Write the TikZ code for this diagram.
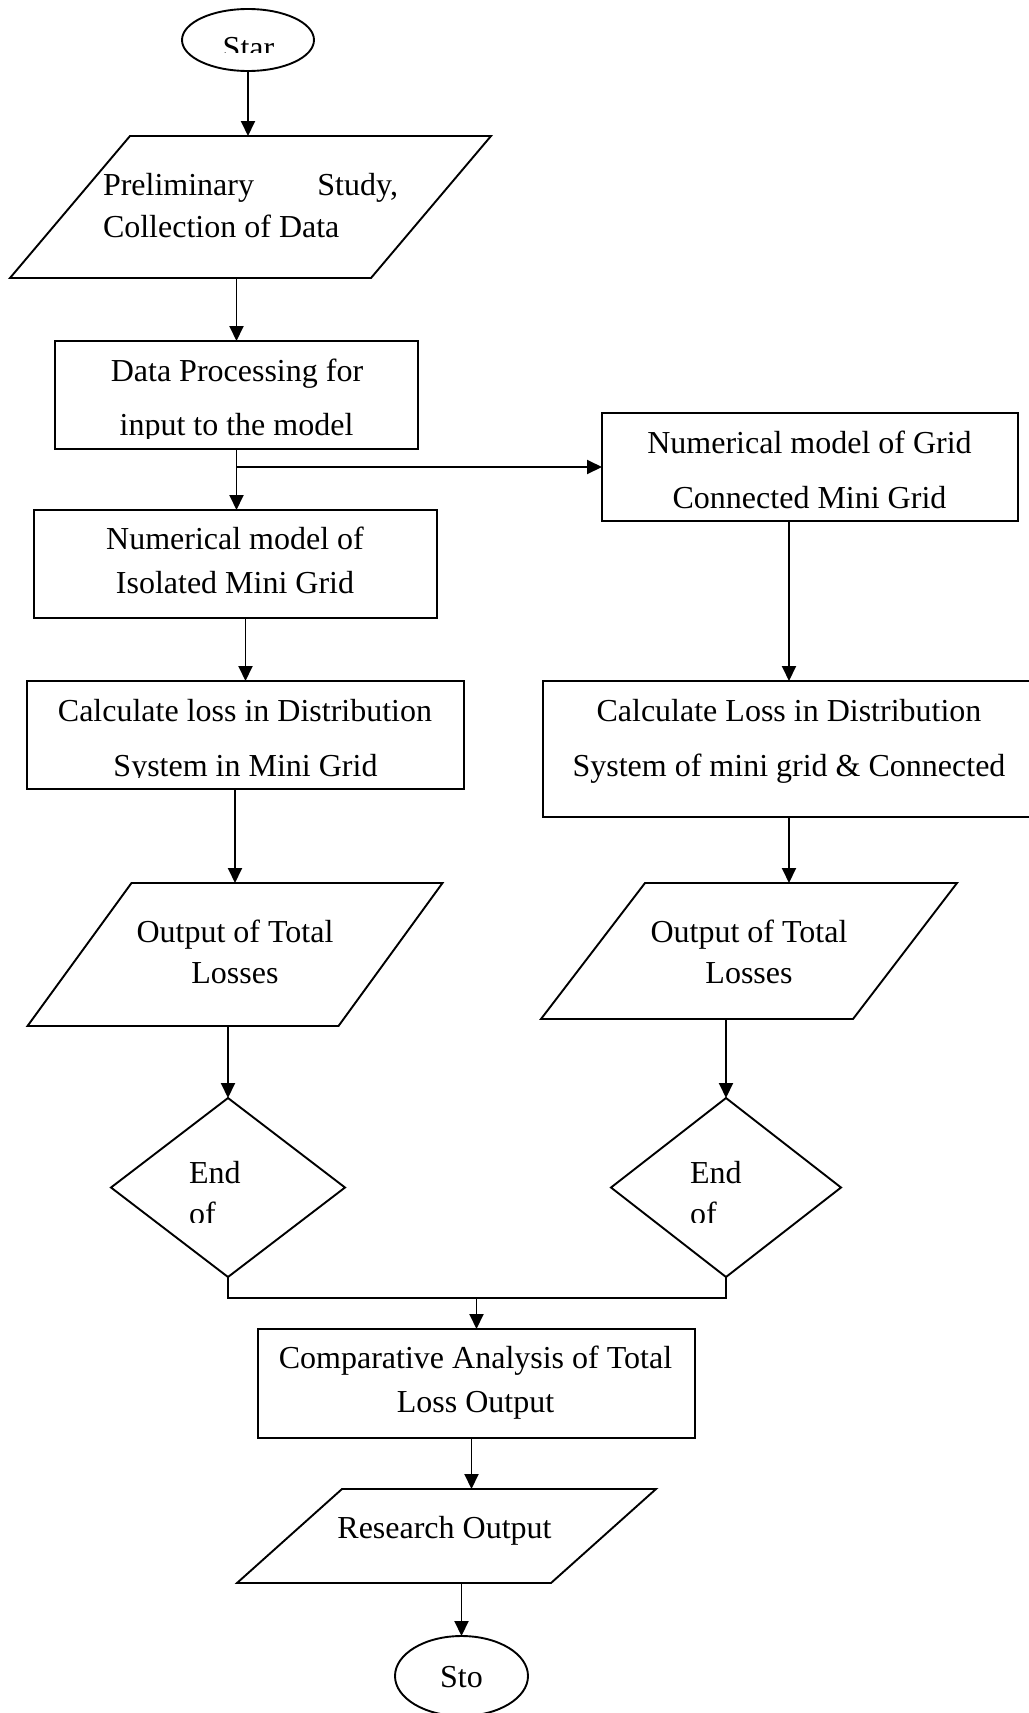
\documentclass[tikz,border=0pt]{standalone}
\usepackage{fontspec}
\setmainfont{Liberation Serif}
\usetikzlibrary{arrows.meta,shapes.geometric,calc}
\tikzset{
  ln/.style={line width=0.95pt, black, line join=miter},
  arr/.style={ln, -{Triangle[length=7.5pt,width=7pt]}},
  shp/.style={draw, line width=0.95pt, inner sep=0pt, outer sep=0pt},
  body/.style={rectangle, inner sep=0pt, outer sep=0pt},
  txt/.style={inner sep=0pt, outer sep=0pt, anchor=base, font=\fontsize{16}{19}\selectfont},
  txtl/.style={txt, anchor=base west}
}
\newcommand\drawpara[2]{%
  \draw[ln] ([xshift=-#2]#1.south west) -- ([xshift=-#2]#1.south east)
    -- ([xshift=#2]#1.north east) -- ([xshift=#2]#1.north west) -- cycle;}
\begin{document}
\begin{tikzpicture}[x=0.5pt,y=-0.5pt]
\fill[white] (0,0) rectangle (1028,1713);
\useasboundingbox (0,0) rectangle (1028,1713);

% ---------- shapes ----------
\node[shp, ellipse, minimum width=66pt, minimum height=31pt] (start) at (248,40) {};
\node[body, minimum width=180.5pt, minimum height=71pt] (p1) at (250.5,207) {};
\drawpara{p1}{30pt}
\node[shp, rectangle, minimum width=181.5pt, minimum height=54pt] (dp) at (236.5,395) {};
\node[shp, rectangle, minimum width=201.5pt, minimum height=54pt] (ni) at (235.5,564) {};
\node[shp, rectangle, minimum width=208pt, minimum height=54pt] (ng) at (810,467) {};
\node[shp, rectangle, minimum width=218.5pt, minimum height=54pt] (cl) at (245.5,735) {};
\node[shp, rectangle, minimum width=246pt, minimum height=68pt] (cr) at (789,749) {};
\node[body, minimum width=155.5pt, minimum height=71.5pt] (ol) at (235,954.5) {};
\drawpara{ol}{26pt}
\node[body, minimum width=156pt, minimum height=68pt] (or) at (749,951) {};
\drawpara{or}{26pt}
\node[shp, diamond, minimum width=117pt, minimum height=89.5pt] (dl) at (228,1187.5) {};
\node[shp, diamond, minimum width=115pt, minimum height=89.5pt] (dr) at (726,1187.5) {};
\node[shp, rectangle, minimum width=218.5pt, minimum height=54.5pt] (ca) at (476.5,1383.5) {};
\node[body, minimum width=157pt, minimum height=47pt] (ro) at (446.5,1536) {};
\drawpara{ro}{26.25pt}
\node[shp, ellipse, minimum width=66.5pt, minimum height=40pt] (stop) at (461.5,1676) {};

% ---------- connectors ----------
\draw[arr] (start.south) -- (start.south |- p1.north);
\draw[arr] (p1.south -| dp.north) -- (dp.north);
\draw[arr] (dp.south) -- (dp.south |- ni.north);
\coordinate (br) at (dp.south |- ng.west);
\draw[arr] (br) -- (ng.west);
\draw[arr] (ni.south -| cl.north) -- (cl.north);
\draw[arr] (cl.south -| ol.north) -- (ol.north);
\draw[arr] (ol.south -| dl.north) -- (dl.north);
\draw[arr] (ng.south -| cr.north) -- (cr.north);
\draw[arr] (cr.south) -- (cr.south |- or.north);
\draw[arr] (or.south -| dr.north) -- (dr.north);
\coordinate (jn) at ($(ca.north)+(0,-31)$);
\draw[ln] (dl.south) |- (jn) -| (dr.south);
\draw[arr] (jn) -- (ca.north);
\coordinate (caout) at ($(ca.south)+(-5,0)$);
\draw[arr] (caout) -- (caout |- ro.north);
\draw[arr] (ro.south -| stop.north) -- (stop.north);

% ---------- texts ----------
\begin{scope}
  \clip (150,0) rectangle (350,52);
  \node[txt] (tstart) at (248.5,58) {Star};
\end{scope}
\node[txtl] (tp1a) at (103,195) {\makebox[147.5pt][s]{Preliminary\hfill Study,}};
\node[txtl] (tp1b) at (103,237) {Collection of Data};

\node[txt] (tdpa) at (237,381) {Data Processing for};
\begin{scope}
  \clip (56,342) rectangle (417,438);
  \node[txt] (tdpb) at (236.5,435) {input to the model};
\end{scope}

\node[txt] (tnia) at (235,549) {Numerical model of};
\node[txt] (tnib) at (235,593) {Isolated Mini Grid};

\node[txt] (tnga) at (809.5,453) {Numerical model of Grid};
\node[txt] (tngb) at (809.5,508) {Connected Mini Grid};

\node[txt] (tcla) at (245,721) {Calculate loss in Distribution};
\begin{scope}
  \clip (28,682) rectangle (463,777);
  \node[txt] (tclb) at (245.5,776) {System in Mini Grid};
\end{scope}

\node[txt] (tcra) at (789,721) {Calculate Loss in Distribution};
\node[txt] (tcrb) at (789,776) {System of mini grid \& Connected};

\node[txt] (tola) at (235,942) {Output of Total};
\node[txt] (tolb) at (235,983) {Losses};
\node[txt] (tora) at (749,942) {Output of Total};
\node[txt] (torb) at (749,983) {Losses};

\node[txtl] (tdla) at (189,1183) {End};
\begin{scope}
  \clip (150,1190) rectangle (300,1222);
  \node[txtl] (tdlb) at (189,1224) {of};
\end{scope}
\node[txtl] (tdra) at (690,1183) {End};
\begin{scope}
  \clip (650,1190) rectangle (800,1222);
  \node[txtl] (tdrb) at (690,1224) {of};
\end{scope}

\node[txt] (tcaa) at (475.5,1368) {Comparative Analysis of Total};
\node[txt] (tcab) at (475.5,1412) {Loss Output};

\node[txt] (tro) at (444.5,1538) {Research Output};
\node[txt] (tstop) at (461.5,1687) {Sto};
\end{tikzpicture}
\end{document}
